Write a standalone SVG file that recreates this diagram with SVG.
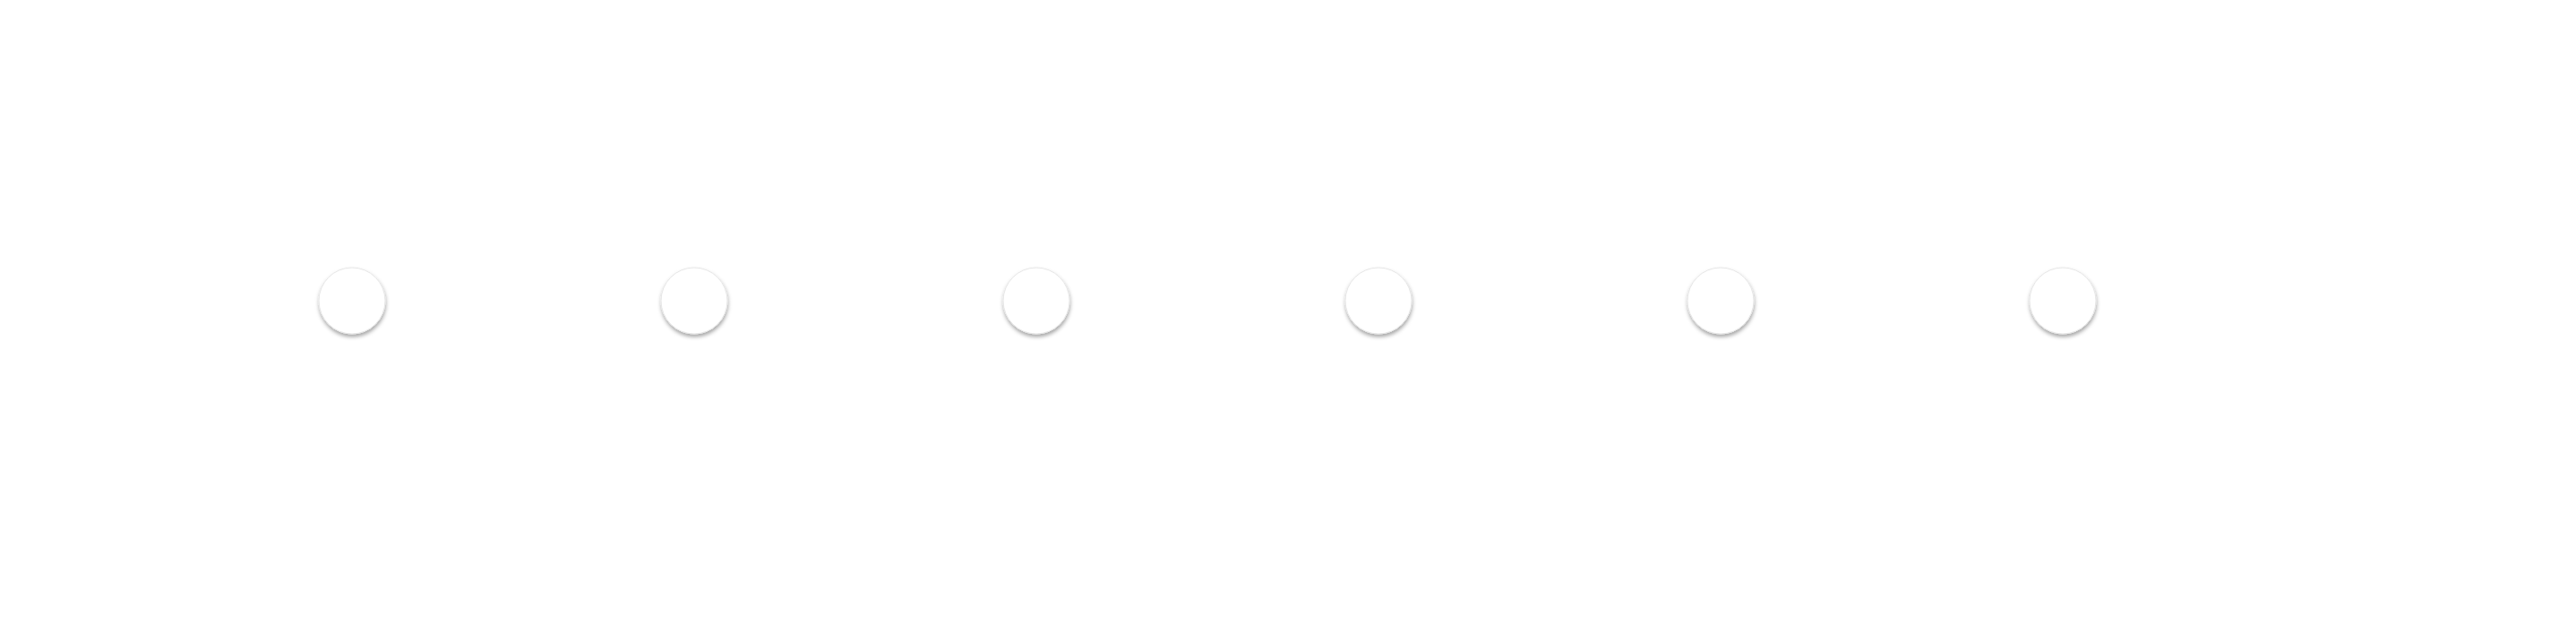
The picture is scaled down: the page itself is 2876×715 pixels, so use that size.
<svg xmlns="http://www.w3.org/2000/svg" width="2876" height="715" viewBox="0 0 2876 715">
<defs>
<filter id="sh" x="-30%" y="-30%" width="160%" height="170%">
<feDropShadow dx="0.5" dy="3" stdDeviation="2.2" flood-color="#000" flood-opacity="0.35"/>
</filter>
<style>
.node circle{fill:#ffffff;stroke:#e6e6e6;stroke-width:1;filter:url(#sh)}
</style>
</defs>
<rect width="2876" height="715" fill="#ffffff"/>
<g id="connectors"></g>
<g id="node1" class="node"><circle cx="393" cy="336" r="37"/></g>
<g id="node2" class="node"><circle cx="775" cy="336" r="37"/></g>
<g id="node3" class="node"><circle cx="1157" cy="336" r="37"/></g>
<g id="node4" class="node"><circle cx="1539" cy="336" r="37"/></g>
<g id="node5" class="node"><circle cx="1921" cy="336" r="37"/></g>
<g id="node6" class="node"><circle cx="2303" cy="336" r="37"/></g>
</svg>
